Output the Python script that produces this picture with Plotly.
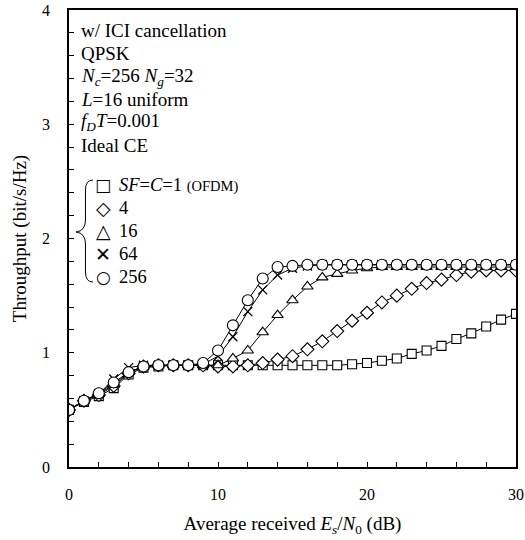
import plotly.graph_objects as go

# Average received Es/N0 (dB)
snr_db = [0, 1, 2, 3, 4, 5, 6, 7, 8, 9, 10, 11, 12, 13, 14, 15,
          16, 17, 18, 19, 20, 21, 22, 23, 24, 25, 26, 27, 28, 29, 30]

# Throughput (bit/s/Hz) for each spreading factor
thr_sf1 = [0.50, 0.57, 0.62, 0.69, 0.81, 0.87, 0.88, 0.89, 0.89, 0.89, 0.89,
           0.89, 0.89, 0.89, 0.89, 0.89, 0.89, 0.89, 0.89, 0.90, 0.91, 0.93,
           0.95, 0.99, 1.02, 1.06, 1.12, 1.17, 1.23, 1.29, 1.34]
thr_sf4 = [0.50, 0.58, 0.63, 0.71, 0.82, 0.88, 0.89, 0.89, 0.89, 0.89, 0.88,
           0.88, 0.89, 0.91, 0.94, 0.97, 1.03, 1.10, 1.19, 1.28, 1.35, 1.44,
           1.50, 1.56, 1.61, 1.64, 1.68, 1.71, 1.72, 1.72, 1.72]
thr_sf16 = [0.50, 0.58, 0.64, 0.72, 0.83, 0.88, 0.89, 0.89, 0.89, 0.89, 0.89,
            0.95, 1.02, 1.18, 1.33, 1.46, 1.58, 1.66, 1.69, 1.72, 1.74, 1.75,
            1.75, 1.75, 1.75, 1.75, 1.75, 1.75, 1.75, 1.75, 1.75]
thr_sf64 = [0.50, 0.58, 0.64, 0.77, 0.87, 0.89, 0.89, 0.89, 0.89, 0.90, 0.97,
            1.14, 1.36, 1.55, 1.68, 1.74, 1.76, 1.77, 1.77, 1.77, 1.77, 1.77,
            1.77, 1.77, 1.77, 1.77, 1.77, 1.77, 1.77, 1.77, 1.77]
thr_sf256 = [0.50, 0.58, 0.645, 0.74, 0.83, 0.88, 0.89, 0.89, 0.89, 0.91, 1.02,
             1.24, 1.46, 1.65, 1.75, 1.76, 1.77, 1.77, 1.77, 1.77, 1.77, 1.77,
             1.77, 1.77, 1.77, 1.77, 1.77, 1.77, 1.77, 1.77, 1.77]

series_names = ["<i>SF</i>=<i>C</i>=1 <span style='font-size:14.5px'>(OFDM)</span>",
                "4", "16", "64", "256"]
series_values = [thr_sf1, thr_sf4, thr_sf16, thr_sf64, thr_sf256]
series_symbols = ["square", "diamond", "triangle-up", "x-thin", "circle"]
series_sizes = [9, 10, 10, 9, 11]
# text glyphs used as keys in the in-plot legend
legend_glyphs = ["\u25a1", "\u25c7", "\u25b3", "\u2715", "\u25cb"]
legend_glyph_sizes = [17, 19, 19, 19, 17]

info_lines = [
    "w/ ICI cancellation",
    "QPSK",
    "<i>N</i><sub><i>c</i></sub>=256 <i>N</i><sub><i>g</i></sub>=32",
    "<i>L</i>=16 uniform",
    "<i>f</i><sub><i>D</i></sub><i>T</i>=0.001",
    "Ideal CE",
]

FONT = "Liberation Serif"
W, H = 525, 540
ML, MR, MT, MB = 69, 8.5, 10, 73
PW, PH = W - ML - MR, H - MT - MB


def px_x(px):
    return (px - ML) / PW


def px_y(py):
    return (H - MB - py) / PH


fig = go.Figure()

for vals, sym, size in zip(series_values, series_symbols, series_sizes):
    if sym == "x-thin":
        marker = dict(symbol=sym, size=size, color="black",
                      line=dict(color="black", width=1.3))
    else:
        marker = dict(symbol=sym, size=size, color="white",
                      line=dict(color="black", width=1.1))
    fig.add_trace(go.Scatter(x=snr_db, y=vals, mode="lines+markers",
                             line=dict(color="black", width=1),
                             marker=marker, showlegend=False, hoverinfo="skip"))

annotations = []
for i, line in enumerate(info_lines):
    annotations.append(dict(
        x=px_x(79), y=px_y(31 + 22.8 * i), xref="paper", yref="paper",
        xanchor="left", yanchor="middle", showarrow=False, text=line,
        font=dict(family=FONT, size=19, color="black")))

# legend: glyph key + label per row
for i, (name, glyph, gsize) in enumerate(zip(series_names, legend_glyphs, legend_glyph_sizes)):
    row_y = px_y(185 + 23 * i)
    annotations.append(dict(
        x=px_x(103.5), y=row_y, xref="paper", yref="paper",
        xanchor="center", yanchor="middle", showarrow=False, text=glyph,
        font=dict(family="DejaVu Sans", size=gsize, color="black")))
    annotations.append(dict(
        x=px_x(117), y=row_y, xref="paper", yref="paper",
        xanchor="left", yanchor="middle", showarrow=False, text=name,
        font=dict(family=FONT, size=18.5, color="black")))

# curly brace grouping the legend entries
brace_pts = [(93, 180), (85.5, 180), (85.5, 190), (85.5, 220), (85.5, 231),
             (76, 232), (85.5, 233), (85.5, 244), (85.5, 272), (85.5, 282), (93, 282)]
p = [(px_x(a), px_y(b)) for a, b in brace_pts]
brace_path = (f"M {p[0][0]},{p[0][1]} Q {p[1][0]},{p[1][1]} {p[2][0]},{p[2][1]} "
              f"L {p[3][0]},{p[3][1]} Q {p[4][0]},{p[4][1]} {p[5][0]},{p[5][1]} "
              f"Q {p[6][0]},{p[6][1]} {p[7][0]},{p[7][1]} "
              f"L {p[8][0]},{p[8][1]} Q {p[9][0]},{p[9][1]} {p[10][0]},{p[10][1]}")

fig.update_layout(
    width=W, height=H,
    margin=dict(l=ML, r=MR, t=MT, b=MB, autoexpand=False),
    paper_bgcolor="white", plot_bgcolor="white",
    font=dict(family=FONT, size=16, color="black"),
    annotations=annotations,
    showlegend=False,
    shapes=[dict(type="path", path=brace_path, xref="paper", yref="paper",
                 line=dict(color="black", width=1))],
    xaxis=dict(range=[0, 30], dtick=10, tick0=0, showgrid=False, zeroline=False,
               showline=True, linecolor="black", linewidth=1.5, mirror=True,
               automargin=False,
               ticks="inside", ticklen=5, tickcolor="black", ticklabelstandoff=12,
               minor=dict(dtick=2, ticks="inside", ticklen=5, tickcolor="black"),
               tickfont=dict(family=FONT, size=16, color="black"),
               title=dict(text="Average received <i>E</i><sub><i>s</i></sub>/<i>N</i><sub>0</sub> (dB)",
                          font=dict(family=FONT, size=19, color="black"), standoff=15)),
    yaxis=dict(range=[0, 4], dtick=1, tick0=0, showgrid=False, zeroline=False,
               showline=True, linecolor="black", linewidth=1.5, mirror=True,
               automargin=False,
               ticks="inside", ticklen=5, tickcolor="black", ticklabelstandoff=14,
               minor=dict(dtick=0.2, ticks="inside", ticklen=5, tickcolor="black"),
               tickfont=dict(family=FONT, size=16, color="black"),
               title=dict(text="Throughput (bit/s/Hz)",
                          font=dict(family=FONT, size=19, color="black"), standoff=10)),
)

fig.write_html("out.html")
